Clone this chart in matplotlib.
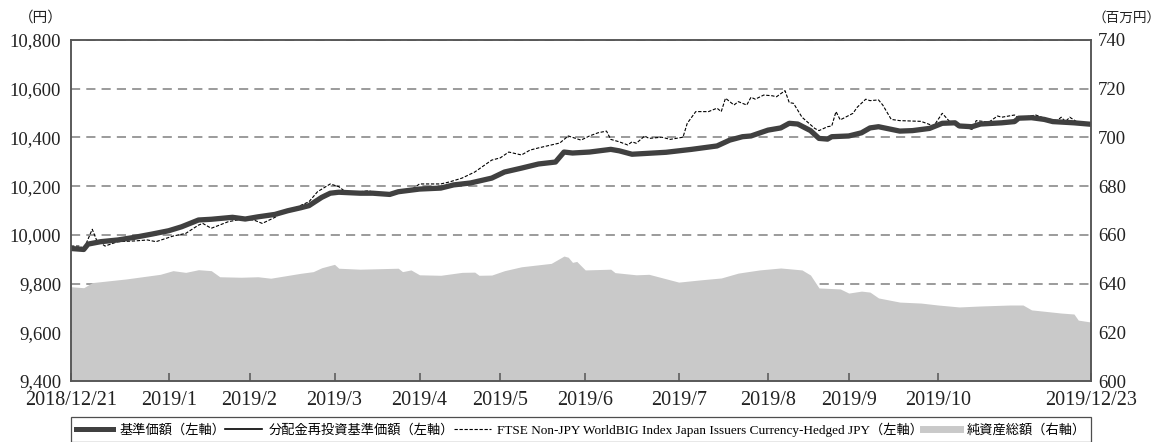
import matplotlib
matplotlib.use('Agg')
import matplotlib.pyplot as plt
from matplotlib.lines import Line2D

plt.rcParams['font.family'] = ['Liberation Serif', 'Noto Sans CJK JP']

### DATA
# x = business-day index from 2018/12/21 (0) to 2019/12/23 (240)
tick_pos = [0, 23, 42, 62, 82, 101, 121, 143, 164, 183, 204, 240]
tick_lab = ['2018/12/21', '2019/1', '2019/2', '2019/3', '2019/4', '2019/5',
            '2019/6', '2019/7', '2019/8', '2019/9', '2019/10', '2019/12/23']

# 基準価額
nav_x = [0, 3, 4, 7, 11, 15, 19, 23, 26, 30, 33, 38, 41, 44, 48, 51, 54, 56, 59, 61,
         63, 68, 71, 75, 77, 82, 87, 90, 94, 99, 102, 106, 110, 114, 116, 118, 122, 127,
         129, 132, 140, 146, 152, 155, 158, 160, 164, 167, 169, 171, 174, 176, 178, 179,
         183, 186, 188, 190, 195, 198, 202, 205, 208, 209, 212, 214, 219, 222, 223, 226,
         229, 231, 236, 240]
nav = [9944, 9940, 9962, 9972, 9979, 9990, 10003, 10017, 10033, 10061, 10064, 10072,
       10065, 10074, 10084, 10099, 10111, 10120, 10154, 10171, 10175, 10171, 10171,
       10166, 10177, 10188, 10192, 10205, 10213, 10233, 10258, 10274, 10291, 10299,
       10340, 10336, 10340, 10351, 10345, 10331, 10339, 10351, 10365, 10389, 10403,
       10406, 10430, 10439, 10458, 10455, 10428, 10396, 10393, 10403, 10406, 10419,
       10439, 10444, 10426, 10428, 10437, 10458, 10460, 10447, 10444, 10455, 10460,
       10465, 10479, 10481, 10474, 10465, 10460, 10454]
# 分配金再投資基準価額 (no distributions -> same as 基準価額)
nav_reinv = list(nav)

# FTSE index
idx_x = [0, 2, 3, 5, 6, 8, 11, 15, 18, 20, 24, 27, 30, 31, 33, 37, 40, 43, 45, 48, 50,
         52, 56, 58, 61, 63, 65, 70, 75, 77, 80, 82, 87, 89, 92, 95, 99, 101, 103, 106,
         108, 110, 115, 117, 120, 122, 124, 126, 127, 129, 131, 132, 133, 135, 136, 139,
         141, 144, 145, 147, 150, 152, 153, 154, 156, 157, 159, 160, 161, 163, 165, 166,
         168, 169, 170, 172, 175, 176, 178, 179, 180, 181, 184, 185, 187, 188, 190, 191,
         193, 195, 200, 203, 205, 207, 212, 213, 216, 218, 219, 222, 223, 227, 229, 232,
         233, 234, 235, 237, 240]
idx = [9954, 9954, 9941, 10023, 9979, 9954, 9972, 9975, 9979, 9972, 9995, 10006, 10040,
       10047, 10027, 10054, 10064, 10061, 10047, 10072, 10095, 10105, 10136, 10177,
       10209, 10198, 10171, 10181, 10160, 10177, 10184, 10209, 10209, 10217, 10233,
       10258, 10307, 10316, 10340, 10328, 10348, 10357, 10377, 10406, 10389, 10406,
       10419, 10426, 10392, 10382, 10369, 10382, 10376, 10406, 10396, 10401, 10392,
       10401, 10458, 10506, 10506, 10520, 10506, 10561, 10533, 10547, 10533, 10565,
       10557, 10574, 10571, 10567, 10592, 10543, 10540, 10483, 10437, 10428, 10444,
       10447, 10506, 10472, 10499, 10524, 10557, 10551, 10554, 10533, 10474, 10469,
       10466, 10447, 10499, 10460, 10433, 10469, 10463, 10488, 10483, 10492, 10479,
       10492, 10479, 10469, 10483, 10465, 10483, 10460, 10458]

# 純資産総額 (百万円)
aum_x = [0, 3, 5, 13, 21, 24, 27, 30, 33, 35, 40, 44, 47, 54, 57, 59, 62, 63, 68, 77,
         78, 80, 82, 87, 92, 95, 96, 99, 102, 106, 113, 116, 117, 118, 119, 121, 127, 128,
         133, 136, 143, 148, 153, 157, 162, 167, 172, 174, 176, 181, 183, 186, 188, 190,
         195, 200, 204, 209, 214, 221, 224, 226, 233, 236, 237, 240]
aum = [638.7, 638.3, 640.4, 641.9, 643.8, 645.3, 644.6, 645.7, 645.3, 642.8, 642.6,
       642.8, 642.2, 644.2, 644.9, 646.5, 647.9, 646.3, 645.9, 646.3, 644.9, 645.6,
       643.6, 643.4, 644.6, 644.7, 643.4, 643.5, 645.3, 646.9, 648.3, 651.3, 650.8,
       648.7, 649.1, 645.6, 645.9, 644.5, 643.6, 643.8, 640.6, 641.5, 642.3, 644.3,
       645.6, 646.4, 645.6, 643.5, 638.2, 637.8, 636.1, 636.9, 636.5, 634.1, 632.4,
       632.0, 631.2, 630.4, 630.8, 631.2, 631.2, 629.2, 627.9, 627.5, 625.0, 624.2]

left_ticks = [9400, 9600, 9800, 10000, 10200, 10400, 10600, 10800]
right_ticks = [600, 620, 640, 660, 680, 700, 720, 740]

### FIGURE
fig = plt.figure(figsize=(11.64, 4.42), dpi=100)
ax = fig.add_axes([71/1164, 61/442, 1020/1164, 341/442])
ax2 = ax.twinx()
ax.set_zorder(ax2.get_zorder()+1)
ax.patch.set_visible(False)

# area on right axis, grid on right axis (under the area)
ax2.set_axisbelow(True)
ax2.fill_between(aum_x, 600, aum, color='#c9c9c9', linewidth=0, zorder=1)
ax2.set_ylim(600, 740)
ax2.set_yticks(right_ticks)
ax2.set_yticklabels([str(v) for v in right_ticks])
ax2.yaxis.grid(True, color='#808080', linestyle=(0, (6, 4)), linewidth=1.1)

ax.plot(nav_x, nav_reinv, color='k', linewidth=1.0)
ax.plot(idx_x, idx, color='k', linewidth=0.8, linestyle=(0, (3, 1.5)))
ax.plot(nav_x, nav, color='#404040', linewidth=3.8, solid_capstyle='butt')

ax.set_xlim(0, 240)
ax.set_ylim(9400, 10800)
ax.set_yticks(left_ticks)
ax.set_yticklabels(['{:,}'.format(v) for v in left_ticks])
ax.set_xticks(tick_pos)
ax.set_xticklabels(tick_lab)

for a in (ax, ax2):
    for s in a.spines.values():
        s.set_color('#555555')
        s.set_linewidth(1.1)
ax.tick_params(axis='x', direction='in', length=6, width=1.1, color='#555555',
               pad=7, labelsize=14.5, labelcolor='#222222')
ax.tick_params(axis='y', length=0, pad=7, labelsize=13.5, labelcolor='#222222')
ax2.tick_params(axis='y', length=0, pad=5, labelsize=13.5, labelcolor='#222222')

fig.text(63/1164, 1-18/442, '（円）', ha='right', va='center', fontsize=10.5,
         family=['Noto Sans CJK JP'], color='#222222')
fig.text(1093/1164, 1-18/442, '（百万円）', ha='left', va='center', fontsize=9.8,
         family=['Noto Sans CJK JP'], color='#222222')

handles = [Line2D([], [], color='#404040', linewidth=3.6),
           Line2D([], [], color='k', linewidth=1.2),
           Line2D([], [], color='k', linewidth=0.8, linestyle=(0, (3, 1.5))),
           Line2D([], [], color='#c9c9c9', linewidth=5)]
labels = ['基準価額（左軸）', '分配金再投資基準価額（左軸）',
          'FTSE Non-JPY WorldBIG Index Japan Issuers Currency-Hedged JPY（左軸）',
          '純資産総額（右軸）']
leg = ax.legend(handles, labels, loc='upper left', bbox_to_anchor=(0, -0.1056, 1, 0),
                mode='expand', ncol=4, borderaxespad=0, fontsize=9.5, frameon=True,
                fancybox=False, handlelength=2.8, handletextpad=0.5, columnspacing=0.8,
                borderpad=0.4)
leg.get_frame().set_edgecolor('#222222')
leg.get_frame().set_linewidth(0.9)

fig.savefig('out.png', dpi=100)
